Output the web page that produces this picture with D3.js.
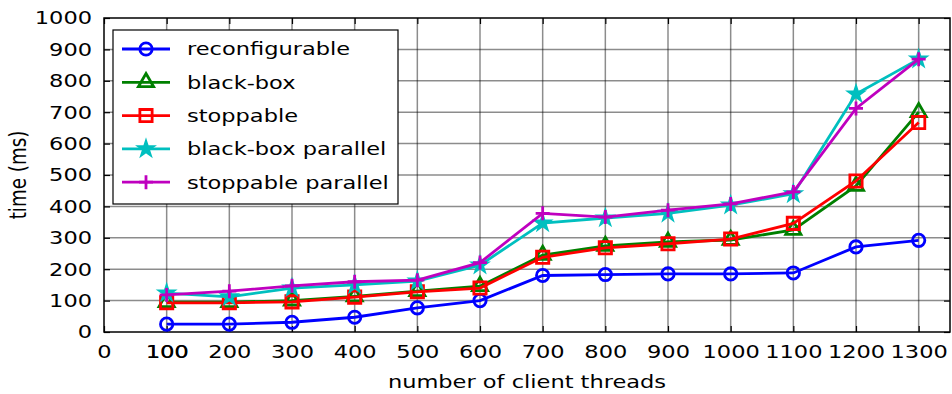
<!DOCTYPE html>
<html>
<head>
<meta charset="utf-8">
<script src="https://cdn.jsdelivr.net/npm/d3@7"></script>
<style>
  body { margin: 0; background: #fff; }
  text { font-family: "DejaVu Sans", sans-serif; }
  .wide { transform-box: fill-box; transform: scaleX(1.23); }
</style>
</head>
<body>
<script>
//chart values
var threads = [100, 200, 300, 400, 500, 600, 700, 800, 900, 1000, 1100, 1200, 1300];
var reconfigurable = [25, 25, 31, 47, 77, 100, 180, 183, 185, 185, 188, 271, 292];
var blackBox = [95, 95, 100, 113, 130, 146, 245, 274, 287, 293, 325, 465, 700];
var stoppable = [93, 93, 96, 111, 128, 140, 238, 268, 281, 296, 346, 481, 667];
var blackBoxParallel = [124, 112, 140, 150, 162, 213, 347, 363, 378, 404, 440, 758, 869];
var stoppableParallel = [118, 130, 147, 160, 165, 221, 378, 366, 388, 408, 446, 712, 869];
var xTicks = [0, 100, 200, 300, 400, 500, 600, 700, 800, 900, 1000, 1100, 1200, 1300];
var yTicks = [0, 100, 200, 300, 400, 500, 600, 700, 800, 900, 1000];

var series = [
  {name: "reconfigurable", values: reconfigurable, color: "#0000ff", marker: "circle"},
  {name: "black-box", values: blackBox, color: "#008000", marker: "triangle"},
  {name: "stoppable", values: stoppable, color: "#ff0000", marker: "square"},
  {name: "black-box parallel", values: blackBoxParallel, color: "#00bfbf", marker: "star"},
  {name: "stoppable parallel", values: stoppableParallel, color: "#bf00bf", marker: "plus"}
];

var w = 952, h = 394;
var pLeft = 104, pRight = 950, pTop = 18, pBottom = 332;
var fs = "18.3px";

var svg = d3.select("body").append("svg")
    .attr("width", w)
    .attr("height", h);

var x = d3.scaleLinear().domain([0, 1350]).range([pLeft, pRight]);
var y = d3.scaleLinear().domain([0, 1000]).range([pBottom, pTop]);

//grid lines
svg.append("g")
    .selectAll("line")
    .data(threads)
    .enter().append("line")
    .attr("x1", function(d){ return x(d); })
    .attr("x2", function(d){ return x(d); })
    .attr("y1", pTop).attr("y2", pBottom)
    .style("stroke", "#000").style("stroke-opacity", 0.45).style("stroke-width", 1.5);

svg.append("g")
    .selectAll("line")
    .data(yTicks.slice(1, -1))
    .enter().append("line")
    .attr("x1", pLeft).attr("x2", pRight)
    .attr("y1", function(d){ return y(d); })
    .attr("y2", function(d){ return y(d); })
    .style("stroke", "#000").style("stroke-opacity", 0.45).style("stroke-width", 1.5);

//axes with inward ticks
function styleAxis(g, origin){
  g.select(".domain").remove();
  g.selectAll(".tick line").style("stroke", "#000").style("stroke-width", 1.2);
  g.selectAll(".tick text")
      .attr("class", "wide")
      .style("transform-origin", origin)
      .style("font-size", fs).style("fill", "#000")
      .style("font-family", "DejaVu Sans, sans-serif");
}

svg.append("g")
    .attr("transform", "translate(0," + pBottom + ")")
    .call(d3.axisBottom(x).tickValues(xTicks).tickSize(-6).tickPadding(13).tickFormat(d3.format("d")))
    .call(styleAxis, "center");
svg.append("g")
    .attr("transform", "translate(0," + pTop + ")")
    .call(d3.axisTop(x).tickValues(xTicks).tickSize(-6).tickFormat(""))
    .call(styleAxis, "center");
svg.append("g")
    .attr("transform", "translate(" + pLeft + ",0)")
    .call(d3.axisLeft(y).tickValues(yTicks).tickSize(-6).tickPadding(12).tickFormat(d3.format("d")))
    .call(styleAxis, "right center");
svg.append("g")
    .attr("transform", "translate(" + pRight + ",0)")
    .call(d3.axisRight(y).tickValues(yTicks).tickSize(-6).tickFormat(""))
    .call(styleAxis, "center");

//the doubled "100" label
svg.append("text")
    .attr("class", "wide")
    .style("transform-origin", "center")
    .attr("x", x(100) + 0.7)
    .attr("y", pBottom + 13)
    .attr("dy", "0.71em")
    .attr("text-anchor", "middle")
    .style("font-size", fs)
    .text("100");

//frame
svg.append("rect")
    .attr("x", pLeft).attr("y", pTop)
    .attr("width", pRight - pLeft).attr("height", pBottom - pTop)
    .style("fill", "none").style("stroke", "#000").style("stroke-width", 1.5);

//marker shapes
function markerPath(kind){
  if (kind === "circle") return d3.symbol(d3.symbolCircle, 120)();
  if (kind === "square") return d3.symbol(d3.symbolSquare, 150)();
  if (kind === "triangle") return d3.symbol(d3.symbolTriangle, 100)();
  if (kind === "star") return d3.symbol(d3.symbolStar, 55)();
  return "M-7,0H7M0,-7V7";
}

var line = d3.line()
    .x(function(d){ return x(d[0]); })
    .y(function(d){ return y(d[1]); });

series.forEach(function(s){
  var pts = threads.map(function(t, i){ return [t, s.values[i]]; });
  var g = svg.append("g");
  g.append("path")
      .datum(pts)
      .attr("d", line)
      .style("fill", "none")
      .style("stroke", s.color)
      .style("stroke-width", 2.8);
  g.selectAll("path.mk")
      .data(pts)
      .enter().append("path")
      .attr("class", "mk")
      .attr("transform", function(d){ return "translate(" + x(d[0]) + "," + y(d[1]) + ")"; })
      .attr("d", markerPath(s.marker))
      .style("fill", s.marker === "star" ? s.color : "none")
      .style("stroke", s.color)
      .style("stroke-width", 2.8);
});

//legend
var legend = svg.append("g");
legend.append("rect")
    .attr("x", 113).attr("y", 30)
    .attr("width", 285).attr("height", 174)
    .style("fill", "#fff").style("stroke", "#000").style("stroke-width", 1.2);

var items = legend.selectAll("g.item")
    .data(series)
    .enter().append("g")
    .attr("transform", function(d, i){ return "translate(0," + (49 + i * 33.3) + ")"; });
items.append("line")
    .attr("x1", 122).attr("x2", 170)
    .style("stroke", function(d){ return d.color; })
    .style("stroke-width", 2.8);
items.append("path")
    .attr("transform", "translate(146,0)")
    .attr("d", function(d){ return markerPath(d.marker); })
    .style("fill", function(d){ return d.marker === "star" ? d.color : "none"; })
    .style("stroke", function(d){ return d.color; })
    .style("stroke-width", 2.8);
items.append("text")
    .attr("class", "wide")
    .style("transform-origin", "left center")
    .attr("x", 187)
    .attr("dy", "0.35em")
    .style("font-size", fs)
    .text(function(d){ return d.name; });

//axis titles
svg.append("text")
    .attr("class", "wide")
    .style("transform-origin", "center")
    .attr("x", 527)
    .attr("y", 388)
    .attr("text-anchor", "middle")
    .style("font-size", fs)
    .text("number of client threads");

svg.append("text")
    .attr("transform", "translate(26," + ((pTop + pBottom) / 2) + ") rotate(-90) scale(1,1.23)")
    .attr("text-anchor", "middle")
    .style("font-size", fs)
    .text("time (ms)");
</script>
</body>
</html>
